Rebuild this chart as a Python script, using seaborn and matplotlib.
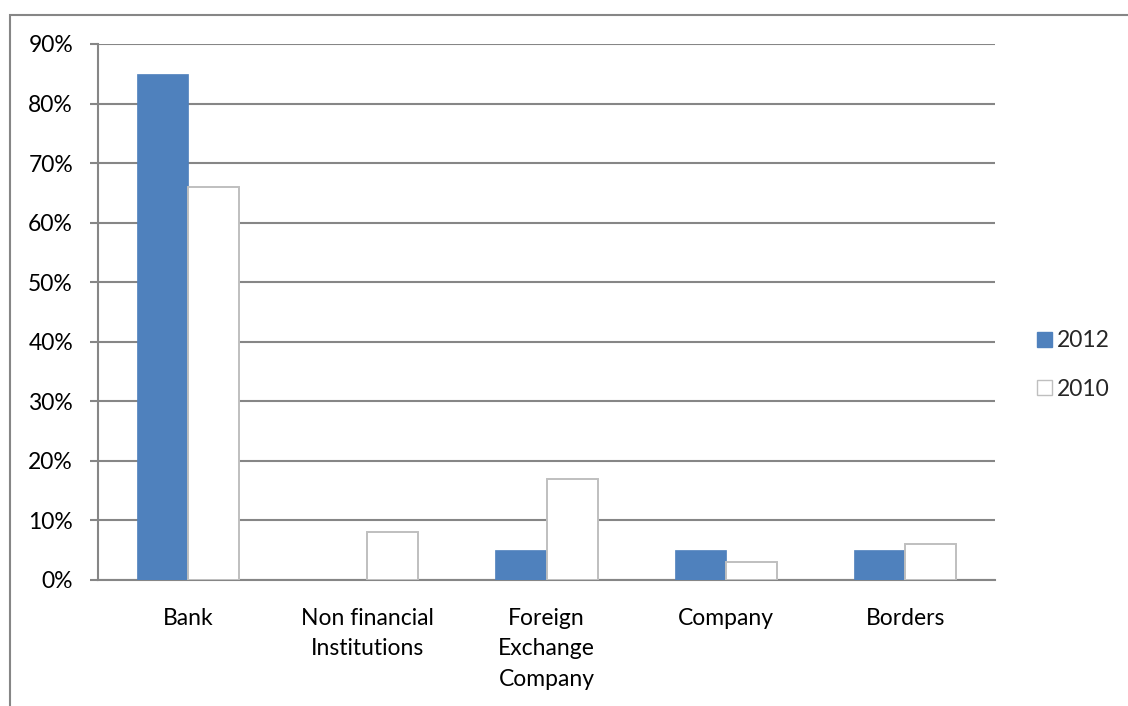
import matplotlib
matplotlib.use("Agg")
import matplotlib.pyplot as plt
import matplotlib.patches as mpatches
from matplotlib.ticker import PercentFormatter, FixedLocator
import seaborn as sns
import pandas as pd

# values
categories = ["Bank", "Non financial\nInstitutions", "Foreign\nExchange\nCompany",
              "Company", "Borders"]
years = ["2012", "2010"]
values_2012 = [0.85, 0.00, 0.05, 0.05, 0.05]
values_2010 = [0.66, 0.08, 0.17, 0.03, 0.06]

df = pd.DataFrame({
    "Category": categories * 2,
    "Year": [years[0]] * 5 + [years[1]] * 5,
    "Share": values_2012 + values_2010,
})

sns.set_theme(style="white")
plt.rcParams["font.family"] = ["Lato", "DejaVu Sans"]

grid_col = "#868686"
blue = "#4F81BD"
light_edge = "#BFBFBF"
fs = 16.5

fig = plt.figure(figsize=(11.28, 7.06), dpi=100)
ax = fig.add_axes([98 / 1128, 1 - 580 / 706, 897 / 1128, 536 / 706])

sns.barplot(data=df, x="Category", y="Share", hue="Year", order=categories,
            hue_order=years, palette=[blue, "white"], width=0.57, gap=0,
            saturation=1, ax=ax, legend=False, zorder=3)

# outline the bars like the original
for bar, year in zip(ax.patches, [years[0]] * 5 + [years[1]] * 5):
    if year == "2010":
        bar.set_edgecolor(light_edge)
        bar.set_linewidth(1.4)
    else:
        bar.set_edgecolor(blue)
        bar.set_linewidth(0.5)

ax.set_ylim(0, 0.9)
ax.set_xlim(-0.5, 4.5)
ax.set_yticks([i / 10 for i in range(10)])
ax.yaxis.set_major_formatter(PercentFormatter(1.0, decimals=0))
ax.yaxis.grid(True, color=grid_col, linewidth=1.5, zorder=0)
ax.set_axisbelow(True)

ax.set_xticks(range(5))
ax.set_xticklabels(categories, linespacing=1.56)
ax.xaxis.set_minor_locator(FixedLocator([i - 0.5 for i in range(6)]))
ax.tick_params(axis="x", which="major", length=0, pad=20, labelsize=fs, colors="black")
ax.tick_params(axis="x", which="minor", length=6, width=1.5, color=grid_col, direction="out")
ax.tick_params(axis="y", length=6, width=1.5, color=grid_col, direction="out",
               left=True, pad=12, labelsize=fs, labelcolor="black")

for side in ["top", "right"]:
    ax.spines[side].set_visible(False)
for side in ["left", "bottom"]:
    ax.spines[side].set_color(grid_col)
    ax.spines[side].set_linewidth(1.5)

ax.set_xlabel("")
ax.set_ylabel("")

handles = [mpatches.Patch(facecolor=blue, edgecolor=blue, label="2012"),
           mpatches.Patch(facecolor="white", edgecolor=light_edge, label="2010")]
fig.legend(handles=handles, loc="center left", bbox_to_anchor=(1037 / 1128, 1 - 365 / 706),
           frameon=False, fontsize=fs, handlelength=0.65, handleheight=0.65,
           handletextpad=0.2, labelspacing=1.2, borderaxespad=0, borderpad=0)

# chart area border (cropped on the right and bottom in the original)
fig.add_artist(mpatches.Rectangle((10 / 1128, -0.1), 1.2, 1 - 15 / 706 + 0.1,
                                  transform=fig.transFigure, fill=False,
                                  edgecolor=grid_col, linewidth=1.5))

fig.savefig("out.png", dpi=100)
